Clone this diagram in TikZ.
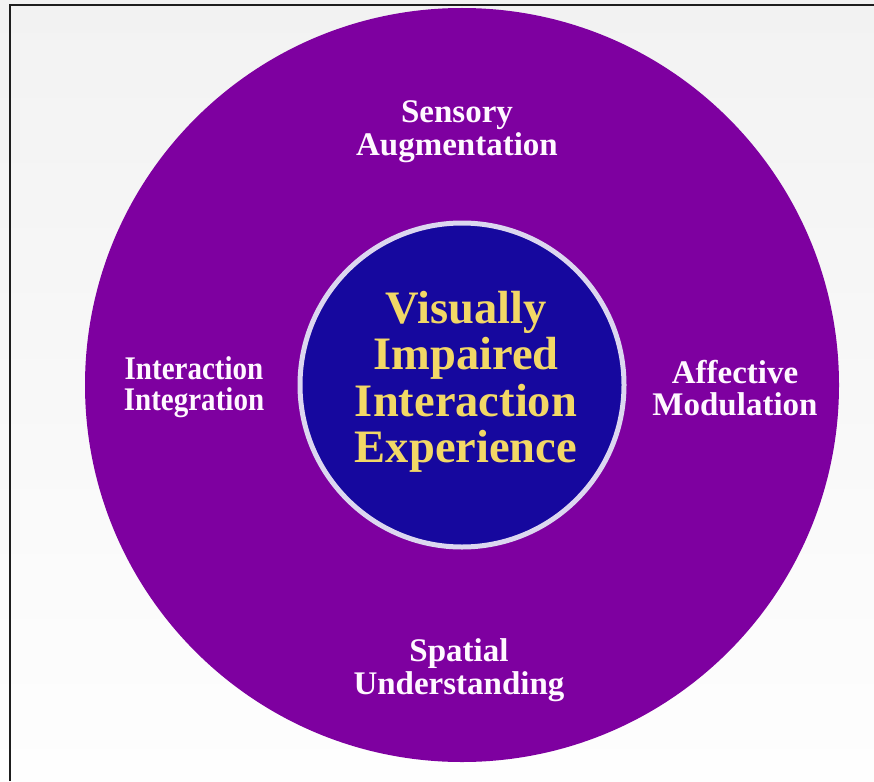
\documentclass[tikz,border=0pt]{standalone}
\usepackage{fontspec}
\setmainfont{Liberation Serif}
\newfontfamily\narrowserif{Liberation Serif}[FakeStretch=0.88]

\definecolor{bgtop}{HTML}{F2F2F2}
\definecolor{bgbot}{HTML}{FEFEFE}
\definecolor{framegray}{HTML}{1E1E1E}
\definecolor{ringpurple}{HTML}{7E00A0}
\definecolor{coreblue}{HTML}{16089E}
\definecolor{ringlight}{HTML}{DCD7F0}
\definecolor{coretext}{HTML}{F2D866}
\definecolor{labeltext}{HTML}{FFF8FF}

\tikzset{
  outerlabel/.style={text=labeltext, align=center, inner sep=0pt,
    font=\fontsize{33}{32.5}\selectfont\bfseries},
  corelabel/.style={text=coretext, align=center, inner sep=0pt,
    font=\fontsize{46.5}{46.5}\selectfont\bfseries}
}

\begin{document}
\begin{tikzpicture}[x=1pt,y=-1pt]
  \useasboundingbox (0,0) rectangle (874,781);
  % page background and frame
  \fill[top color=bgtop, bottom color=bgbot] (0,0) rectangle (874,781);
  \draw[line width=2pt, framegray] (9.5,781) -- (9.5,5) -- (874,5);

  % rings
  \node[circle, fill=ringpurple, minimum size=754pt, inner sep=0pt] (outer) at (462,385) {};
  \node[circle, fill=coreblue, draw=ringlight, line width=5pt,
        minimum size=324pt, inner sep=0pt] (core) at (462,385) {};

  % centre text
  \node[corelabel] (coretitle) at (466,382)
    {Visually\\Impaired\\Interaction\\Experience};

  % four aspects
  \node[outerlabel] (sensory) at (457,131.7) {Sensory\\Augmentation};
  \node[outerlabel, font=\fontsize{33}{31.5}\selectfont\narrowserif\bfseries]
    (integration) at (194,387.2) {Interaction\\Integration};
  \node[outerlabel] (affective) at (735,388) {Affective\\Modulation};
  \node[outerlabel] (spatial) at (459,670.3) {Spatial\\Understanding};
\end{tikzpicture}
\end{document}
